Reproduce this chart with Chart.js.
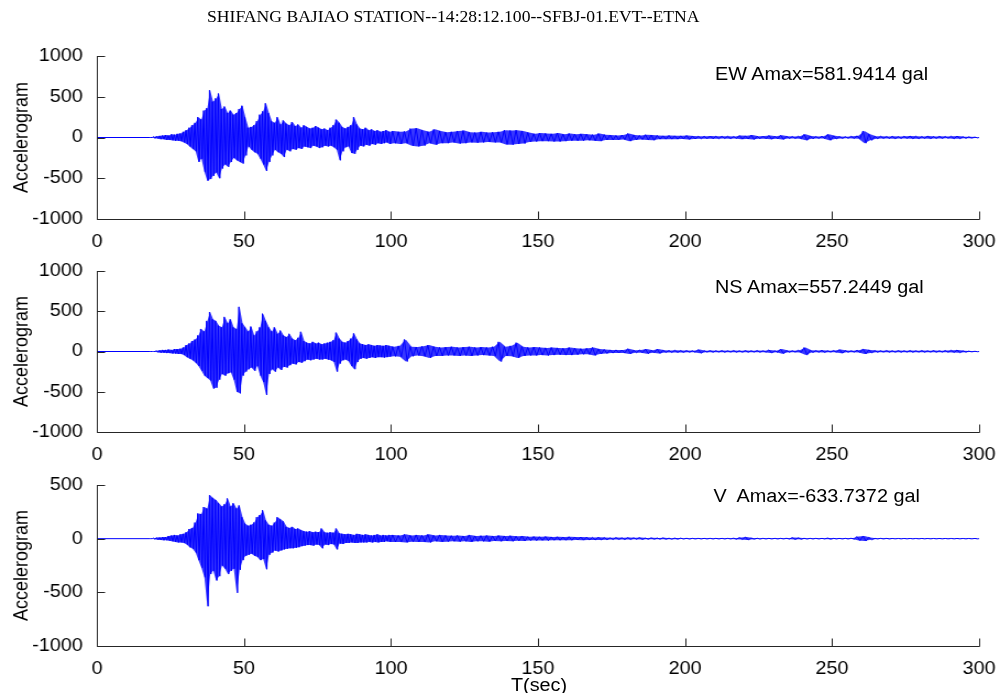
<!DOCTYPE html>
<html><head><meta charset="utf-8">
<script src="https://cdn.jsdelivr.net/npm/chart.js@4"></script>
<style>
html,body{margin:0;padding:0;background:#fff;}
body{width:1000px;height:693px;overflow:hidden;position:relative;}
#stage{position:absolute;left:0;top:0;width:909px;height:693px;transform-origin:0 0;transform:scaleX(1.1001);}
.cv{position:absolute;left:0;}
.txt{position:absolute;white-space:pre;line-height:1;color:#000;}
.sans{font-family:"Liberation Sans",Arial,sans-serif;font-size:18px;}
#title{font-family:"Liberation Serif","Times New Roman",serif;font-size:16px;left:0;width:824px;text-align:center;top:9.3px;}
</style></head>
<body><div id="stage">
<div id="title" class="txt">SHIFANG BAJIAO STATION--14:28:12.100--SFBJ-01.EVT--ETNA</div>
<canvas id="c1" class="cv" width="909" height="210" style="top:40px;width:909px;height:210px"></canvas>
<canvas id="c2" class="cv" width="909" height="208" style="top:255px;width:909px;height:208px"></canvas>
<canvas id="c3" class="cv" width="909" height="208" style="top:469px;width:909px;height:208px"></canvas>
<div class="txt sans" style="left:650px;top:64.8px">EW Amax=581.9414 gal</div>
<div class="txt sans" style="left:650px;top:278.1px">NS Amax=557.2449 gal</div>
<div class="txt sans" style="left:648.5px;top:486.5px">V  Amax=-633.7372 gal</div>
<div class="txt sans" style="left:390px;width:200px;text-align:center;top:675.7px">T(sec)</div>
</div>
<script>
// ---- time grid of the read-off samples (seconds) ----
const preEventTimes = [0, 18];
const preEventValues = [0, 0];
const start1 = 18, bin1 = 1;   // 1-s bins, 18..99 s
const start2 = 100, bin2 = 2;  // 2-s bins, 100..298 s
const endTime = 300;

// ---- EW component (gal): positive / negative peaks per bin ----
const ewHi1 = [0,10,15,20,25,30,25,40,35,45,
  50,70,90,120,150,180,250,220,330,360,
  580,440,480,540,350,380,300,330,280,300,
  350,390,250,120,130,150,200,280,320,420,
  300,200,180,250,160,210,170,150,190,140,
  160,120,150,130,110,120,140,120,100,110,
  90,120,150,220,180,130,110,130,150,250,
  160,110,100,120,90,100,80,90,70,80,90,70];
const ewLo1 = [0,-10,-12,-20,-20,-30,-30,-35,-40,-40,
  -45,-60,-80,-110,-140,-170,-300,-260,-420,-530,
  -510,-470,-430,-500,-380,-330,-360,-300,-250,-280,
  -300,-320,-220,-110,-150,-180,-200,-260,-330,-410,
  -300,-220,-150,-180,-200,-240,-150,-170,-140,-150,
  -130,-140,-110,-120,-130,-100,-110,-130,-120,-100,
  -110,-100,-120,-150,-280,-170,-120,-110,-190,-200,
  -150,-100,-110,-90,-100,-80,-90,-70,-80,-70,-60,-80];
const ewHi2 = [80,70,75,110,115,90,70,100,80,65,
  70,80,85,65,60,70,60,65,70,90,
  85,90,80,60,45,55,50,45,55,40,
  50,40,45,40,35,50,35,30,25,30,
  50,30,25,35,30,25,20,25,20,20,
  25,18,15,15,18,15,15,15,12,25,
  20,30,15,18,25,15,28,15,12,15,
  40,18,12,15,40,20,12,10,15,20,
  80,40,15,15,12,15,12,15,18,15,
  12,18,12,15,12,15,18,10,8,5];
const ewLo2 = [-70,-80,-70,-100,-110,-100,-70,-90,-70,-70,
  -60,-75,-70,-60,-65,-60,-55,-60,-60,-85,
  -90,-80,-75,-55,-50,-45,-45,-50,-50,-45,
  -40,-40,-40,-35,-40,-45,-30,-30,-30,-25,
  -45,-30,-25,-30,-35,-20,-20,-20,-20,-18,
  -25,-18,-15,-15,-15,-15,-12,-15,-12,-20,
  -18,-25,-15,-15,-22,-15,-25,-12,-12,-15,
  -35,-15,-12,-12,-35,-18,-12,-10,-12,-15,
  -70,-35,-15,-12,-12,-15,-12,-12,-15,-15,
  -12,-15,-12,-12,-10,-15,-15,-10,-8,-5];

// ---- NS component (gal) ----
const nsHi1 = [0,0,10,15,20,20,25,20,30,30,
  35,50,80,100,130,150,200,280,250,380,
  490,400,380,320,300,430,350,400,300,280,
  555,350,300,250,310,200,250,300,470,380,
  300,250,300,220,260,200,180,220,160,140,
  170,245,130,110,100,120,100,110,90,100,
  110,120,140,235,160,120,110,130,160,225,
  150,100,90,80,90,80,70,80,75,70,80,70];
const nsLo1 = [0,0,-10,-15,-15,-20,-20,-25,-25,-30,
  -30,-45,-70,-90,-110,-140,-180,-240,-300,-330,
  -360,-460,-450,-350,-280,-300,-270,-260,-350,-500,
  -520,-300,-250,-220,-200,-240,-180,-300,-380,-540,
  -280,-220,-250,-200,-230,-190,-200,-170,-150,-160,
  -130,-140,-120,-100,-110,-100,-90,-100,-100,-90,
  -100,-110,-130,-250,-150,-110,-100,-120,-180,-220,
  -130,-90,-80,-90,-80,-70,-80,-70,-70,-75,-70,-65];
const nsHi2 = [60,70,150,60,55,65,80,60,50,55,
  60,50,55,60,50,55,50,60,120,60,
  70,110,60,50,55,50,45,50,45,40,
  50,40,35,40,50,30,25,20,20,18,
  35,15,18,30,15,30,15,12,15,12,
  12,10,25,10,12,10,12,10,12,10,
  12,10,12,10,20,10,30,12,10,15,
  50,15,12,15,10,12,25,12,10,15,
  32,20,12,10,12,10,12,10,12,10,
  12,10,12,10,12,15,18,8,5,3];
const nsLo2 = [-60,-65,-125,-60,-50,-60,-80,-55,-55,-50,
  -50,-55,-50,-55,-50,-45,-50,-55,-125,-55,
  -60,-80,-55,-50,-50,-45,-50,-45,-40,-45,
  -45,-40,-35,-35,-50,-30,-25,-20,-18,-18,
  -30,-15,-15,-28,-15,-25,-12,-12,-12,-12,
  -10,-10,-22,-8,-10,-8,-10,-8,-10,-10,
  -10,-8,-10,-8,-18,-10,-28,-10,-8,-12,
  -45,-12,-10,-12,-8,-10,-22,-10,-8,-12,
  -30,-18,-10,-8,-10,-10,-10,-8,-10,-8,
  -10,-8,-10,-8,-10,-12,-15,-8,-5,-3];

// ---- V component (gal) ----
const vHi1 = [0,5,10,12,15,15,25,30,35,30,
  40,45,60,90,100,150,235,230,295,280,
  405,380,360,330,300,320,375,300,330,280,
  310,200,140,120,130,150,200,220,265,170,
  130,120,150,200,180,160,110,100,110,90,
  95,80,70,65,70,60,65,60,95,60,
  55,60,55,95,50,45,40,45,40,35,
  45,40,35,40,35,30,35,40,30,35,30,35];
const vLo1 = [0,-5,-10,-12,-15,-15,-20,-25,-30,-35,
  -35,-40,-55,-80,-95,-130,-200,-270,-360,-630,
  -330,-300,-390,-350,-250,-280,-330,-300,-280,-505,
  -290,-200,-160,-150,-140,-160,-170,-200,-190,-285,
  -150,-130,-110,-120,-110,-100,-95,-90,-90,-85,
  -80,-70,-65,-60,-60,-65,-55,-60,-90,-55,
  -60,-50,-55,-100,-45,-50,-40,-40,-35,-40,
  -40,-35,-35,-35,-30,-35,-30,-35,-30,-30,-25,-30];
const vHi2 = [35,30,40,30,35,30,40,30,35,30,
  28,30,25,35,25,28,30,25,30,25,
  28,22,25,18,20,18,20,16,18,15,
  18,15,15,14,12,14,10,8,10,8,
  10,8,10,6,8,6,8,5,6,5,
  4,3,3,3,3,3,3,3,5,10,
  15,6,4,3,3,3,3,4,10,8,
  4,3,3,3,6,3,3,3,4,20,
  25,12,3,3,3,2,2,2,2,2,
  2,2,2,2,2,2,2,2,2,2];
const vLo2 = [-30,-30,-35,-28,-30,-30,-35,-25,-30,-28,
  -25,-28,-25,-30,-25,-25,-28,-22,-25,-22,
  -25,-20,-22,-18,-18,-16,-18,-15,-15,-15,
  -15,-12,-14,-12,-12,-12,-10,-8,-8,-8,
  -8,-6,-8,-6,-6,-5,-6,-5,-5,-4,
  -4,-3,-3,-3,-3,-3,-3,-3,-5,-8,
  -12,-5,-4,-3,-3,-3,-3,-4,-8,-6,
  -4,-3,-3,-3,-5,-3,-3,-3,-4,-18,
  -22,-10,-3,-3,-3,-2,-2,-2,-2,-2,
  -2,-2,-2,-2,-2,-2,-2,-2,-2,-2];

// ---- axes ----
const xMin = 0, xMax = 300, xStep = 50;
const yStep = 500;
const yRangeEW = [-1000, 1000];
const yRangeNS = [-1000, 1000];
const yRangeV = [-1000, 500];
const yTitle = 'Accelerogram';

// zig-zag trace: each bin's positive peak, then its negative peak
function trace(hi1, lo1, hi2, lo2) {
  const pts = preEventTimes.map((t, i) => ({x: t, y: preEventValues[i]}));
  hi1.forEach((h, i) => {
    const t = start1 + i * bin1;
    pts.push({x: t + bin1 * 0.25, y: h}, {x: t + bin1 * 0.75, y: lo1[i]});
  });
  hi2.forEach((h, i) => {
    const t = start2 + i * bin2;
    pts.push({x: t + bin2 * 0.25, y: h}, {x: t + bin2 * 0.75, y: lo2[i]});
  });
  pts.push({x: endTime, y: 0});
  return pts;
}
// envelope (one side) at bin centres
function envelope(a1, a2) {
  const pts = preEventTimes.map((t, i) => ({x: t, y: preEventValues[i]}));
  a1.forEach((v, i) => pts.push({x: start1 + i * bin1 + bin1 / 2, y: v}));
  a2.forEach((v, i) => pts.push({x: start2 + i * bin2 + bin2 / 2, y: v}));
  pts.push({x: endTime, y: 0});
  return pts;
}

const matlabAxes = {
  id: 'matlabAxes',
  afterDraw(chart) {
    const {ctx, chartArea: a, scales: {x, y}} = chart;
    ctx.save();
    ctx.strokeStyle = '#262626';
    ctx.lineWidth = 1;
    const L = Math.round(a.left) + 0.5, B = Math.round(a.bottom) + 0.5;
    ctx.beginPath();
    ctx.moveTo(L, Math.round(a.top));
    ctx.lineTo(L, B);
    ctx.lineTo(Math.round(a.right) + 0.5, B);
    y.ticks.forEach(t => {
      const py = Math.round(y.getPixelForValue(t.value)) + 0.5;
      ctx.moveTo(L, py); ctx.lineTo(L + 7, py);
    });
    x.ticks.forEach(t => {
      const px = Math.round(x.getPixelForValue(t.value)) + 0.5;
      ctx.moveTo(px, B); ctx.lineTo(px, B - 8);
    });
    ctx.stroke();
    ctx.restore();
  }
};

const font = {family: '"Liberation Sans", Arial, sans-serif', size: 18};

function makeChart(id, hi1, lo1, hi2, lo2, range) {
  return new Chart(document.getElementById(id), {
    type: 'line',
    data: {datasets: [
      {data: trace(hi1, lo1, hi2, lo2), borderColor: '#0000ff', borderWidth: 1,
        pointRadius: 0, fill: false, tension: 0},
      {data: envelope(hi1, hi2), borderWidth: 0, borderColor: 'rgba(0,0,0,0)',
        backgroundColor: 'rgba(0,0,255,0.78)', pointRadius: 0, fill: '+1', tension: 0},
      {data: envelope(lo1, lo2), borderWidth: 0, borderColor: 'rgba(0,0,0,0)',
        pointRadius: 0, fill: false, tension: 0}
    ]},
    options: {
      responsive: false, animation: false, parsing: false, events: [],
      layout: {autoPadding: false, padding: {left: 0, right: 19, top: 16, bottom: 0}},
      plugins: {legend: {display: false}, tooltip: {enabled: false}},
      scales: {
        x: {type: 'linear', min: xMin, max: xMax,
          afterFit(s) { s.height = 31; },
          grid: {display: false}, border: {display: false},
          ticks: {stepSize: xStep, padding: 4, color: '#000', font, maxRotation: 0, autoSkip: false,
            callback: v => String(v)}},
        y: {type: 'linear', min: range[0], max: range[1],
          afterFit(s) { s.width = 88.2; },
          grid: {display: false}, border: {display: false},
          ticks: {stepSize: yStep, padding: 5, color: '#000', font, callback: v => String(v)},
          title: {display: true, text: yTitle, color: '#000', font, padding: {top: 9, bottom: 0}}}
      }
    },
    plugins: [matlabAxes]
  });
}

makeChart('c1', ewHi1, ewLo1, ewHi2, ewLo2, yRangeEW);
makeChart('c2', nsHi1, nsLo1, nsHi2, nsLo2, yRangeNS);
makeChart('c3', vHi1, vLo1, vHi2, vLo2, yRangeV);
</script>
</body></html>
